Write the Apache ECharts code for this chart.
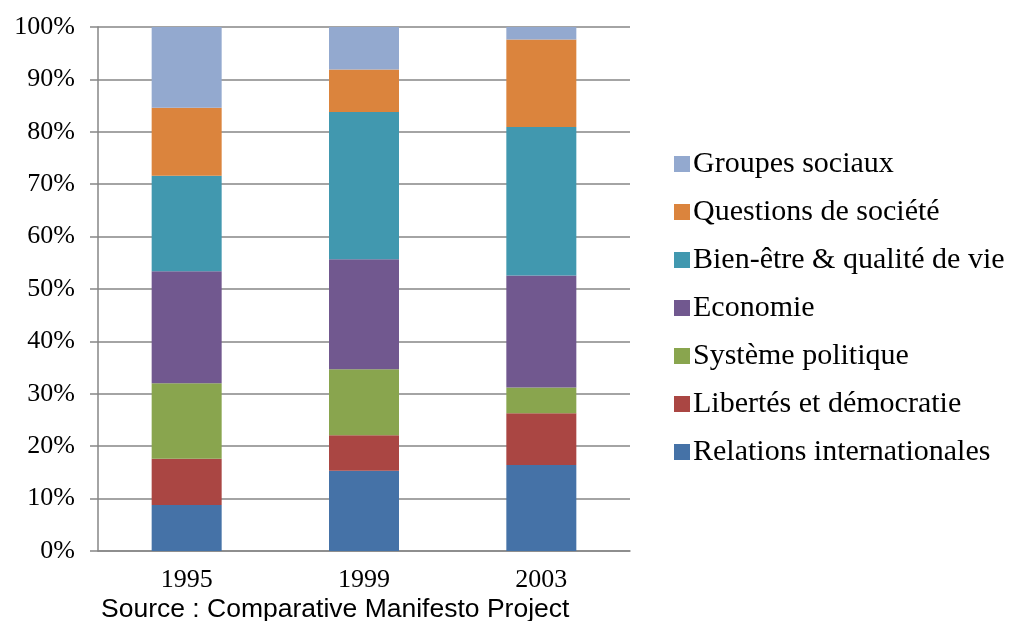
<!DOCTYPE html>
<html>
<head>
<meta charset="utf-8">
<script src="https://cdn.jsdelivr.net/npm/echarts@6/dist/echarts.min.js"></script>
<style>
  html, body { margin: 0; padding: 0; background: #fff; }
  #main { width: 1009px; height: 621px; }
</style>
</head>
<body>
<div id="main"></div>
<script>
// years on the x axis
var years = ['1995', '1999', '2003'];

// share of each theme per year, in percent (bottom to top of each bar)
var relations = [8.8, 15.3, 16.4];
var libertes = [8.8, 6.8, 9.9];
var systeme = [14.4, 12.6, 4.9];
var economie = [21.4, 21.0, 21.4];
var bienEtre = [18.2, 28.1, 28.3];
var questions = [13.0, 8.1, 16.7];
var groupes = [15.4, 8.1, 2.4];

var names = ['Relations internationales', 'Libertés et démocratie', 'Système politique',
  'Economie', 'Bien-être & qualité de vie', 'Questions de société', 'Groupes sociaux'];
var values = [relations, libertes, systeme, economie, bienEtre, questions, groupes];
var colors = ['#4572A7', '#AA4643', '#89A54E', '#71588F', '#4198AF', '#DB843D', '#93A9CF'];

var chart = echarts.init(document.getElementById('main'));

var series = names.map(function (n, i) {
  return {
    name: n,
    type: 'bar',
    stack: 'total',
    barWidth: 70,
    itemStyle: { color: colors[i] },
    data: values[i]
  };
});

var option = {
  animation: false,
  backgroundColor: '#fff',
  grid: { left: 98, right: 379, top: 27, bottom: 70 },
  legend: {
    orient: 'vertical',
    left: 674,
    top: 149,
    padding: 0,
    data: names.slice().reverse(),
    icon: 'rect',
    itemWidth: 16,
    itemHeight: 16,
    itemGap: 18,
    textStyle: { fontFamily: 'Liberation Serif', fontSize: 30, color: '#000', padding: [0, 0, 0, -2] }
  },
  xAxis: {
    type: 'category',
    data: years,
    axisLine: { lineStyle: { color: '#868686', width: 1.5 } },
    axisTick: { length: 8, lineStyle: { color: '#868686', width: 1.5 } },
    axisLabel: { fontFamily: 'Liberation Serif', fontSize: 26, color: '#000', margin: 16 }
  },
  yAxis: {
    type: 'value',
    min: 0,
    max: 100,
    interval: 10,
    axisLine: { show: true, lineStyle: { color: '#868686', width: 1.5 } },
    axisTick: { show: true, length: 8, lineStyle: { color: '#868686', width: 1.5 } },
    splitLine: { lineStyle: { color: '#868686', width: 1.5 } },
    axisLabel: { fontFamily: 'Liberation Serif', fontSize: 26, color: '#000', margin: 23, formatter: '{value}%' }
  },
  graphic: [{
    type: 'text',
    x: 101,
    y: 596,
    style: {
      text: 'Source : Comparative Manifesto Project',
      font: '26.5px "Liberation Sans"',
      fill: '#000',
      textVerticalAlign: 'top'
    }
  }],
  series: series
};

chart.setOption(option);
</script>
</body>
</html>
